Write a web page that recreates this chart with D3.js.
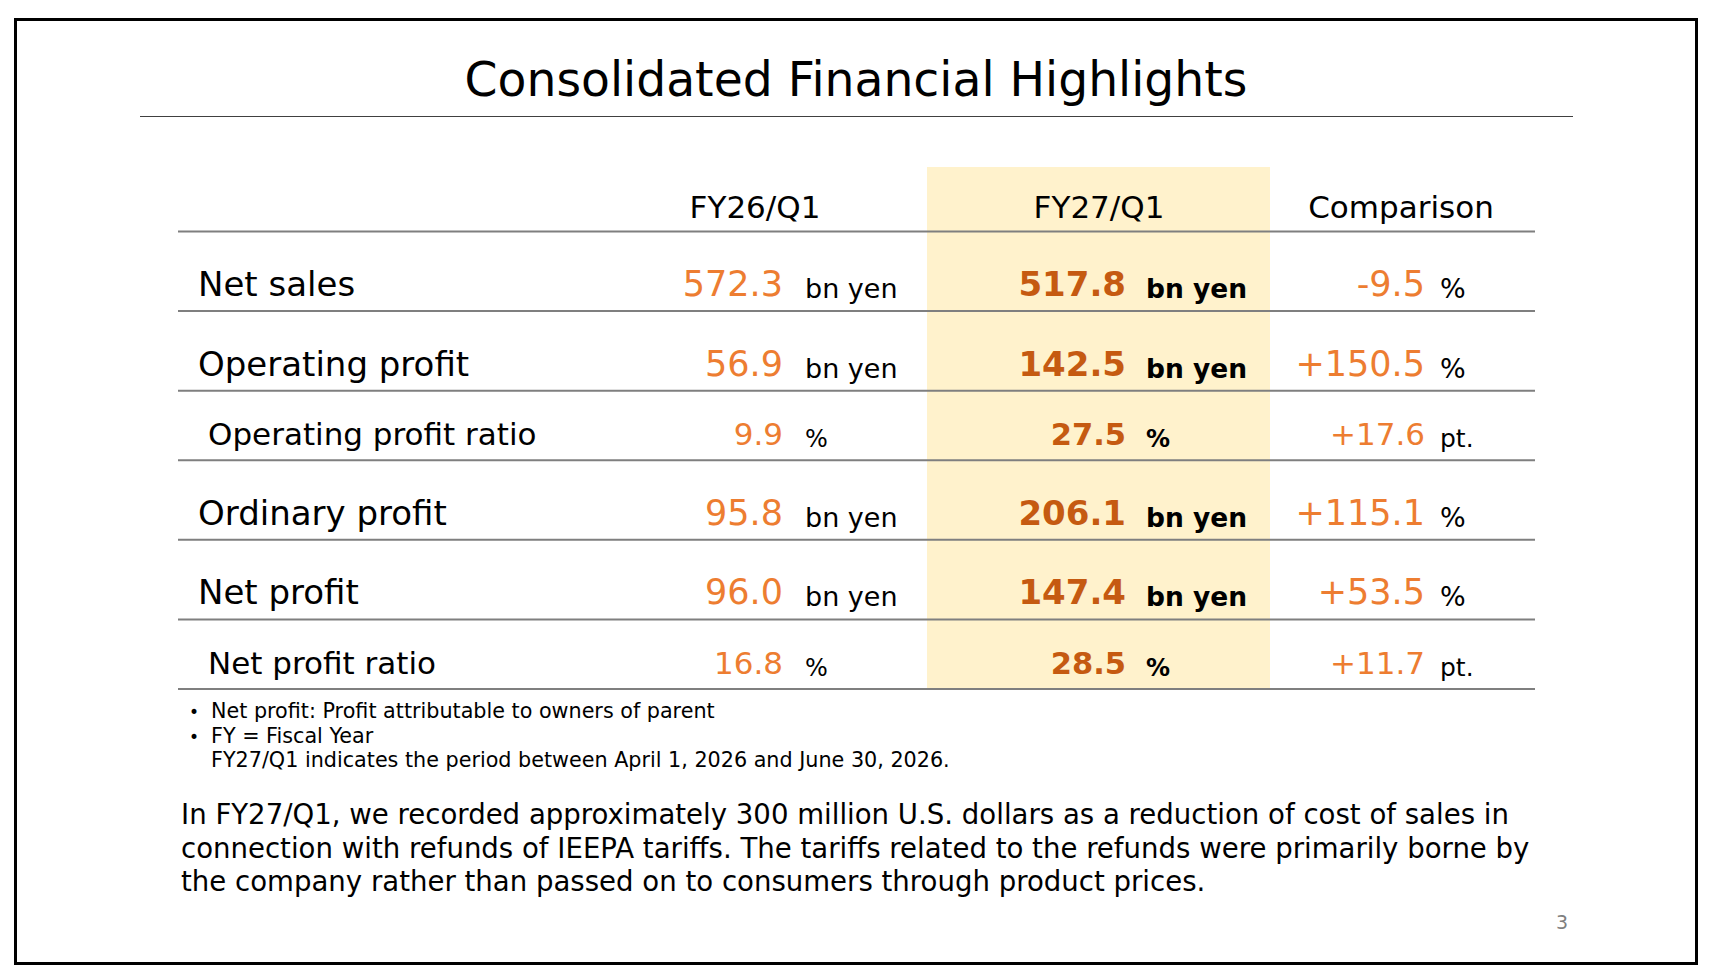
<!DOCTYPE html>
<html>
<head>
<meta charset="utf-8">
<script src="https://cdn.jsdelivr.net/npm/d3@7"></script>
<style>
  html, body { margin: 0; padding: 0; background: #fff; }
  text { font-family: "DejaVu Sans", sans-serif; }
</style>
</head>
<body>
<div id="slide"></div>
<script>
// table content
const columns = ["FY26/Q1", "FY27/Q1", "Comparison"];
const rowLabels = ["Net sales", "Operating profit", "Operating profit ratio", "Ordinary profit", "Net profit", "Net profit ratio"];
const rowIsRatio = [false, false, true, false, false, true];
const fy26 = [572.3, 56.9, 9.9, 95.8, 96.0, 16.8];
const fy27 = [517.8, 142.5, 27.5, 206.1, 147.4, 28.5];
const comparison = [-9.5, 150.5, 17.6, 115.1, 53.5, 11.7];
const valueUnits = ["bn yen", "bn yen", "%", "bn yen", "bn yen", "%"];
const compUnits = ["%", "%", "pt.", "%", "%", "pt."];

const notes = [
    { bullet: true, text: "Net profit: Profit attributable to owners of parent" },
    { bullet: true, text: "FY = Fiscal Year" },
    { bullet: false, text: "FY27/Q1 indicates the period between April 1, 2026 and June 30, 2026." }
];
const paragraph = [
    "In FY27/Q1, we recorded approximately 300 million U.S. dollars as a reduction of cost of sales in",
    "connection with refunds of IEEPA tariffs. The tariffs related to the refunds were primarily borne by",
    "the company rather than passed on to consumers through product prices."
];

const width = 1712;
const height = 980;

const orange = "#ed7d31";
const darkOrange = "#c55a11";
const rule = "#7f7f7f";

const svg = d3.select("#slide").append("svg")
    .attr("width", width)
    .attr("height", height);

// slide frame
svg.append("rect")
    .attr("x", 15.5).attr("y", 19.5)
    .attr("width", 1681).attr("height", 944)
    .attr("fill", "#fff")
    .attr("stroke", "#000")
    .attr("stroke-width", 3);

// font size that makes a text span the given width
function fitSize(node, w) {
    const fs = parseFloat(d3.select(node).attr("font-size"));
    return fs * w / node.getComputedTextLength();
}

const title = svg.append("text")
    .attr("x", 856).attr("y", 96)
    .attr("text-anchor", "middle")
    .attr("font-size", 50)
    .text("Consolidated Financial Highlights");
title.attr("font-size", fitSize(title.node(), 783));

svg.append("line")
    .attr("x1", 140).attr("x2", 1573)
    .attr("y1", 116.5).attr("y2", 116.5)
    .attr("stroke", "#404040")
    .attr("stroke-width", 1.2);

// rows: main rows are taller than ratio rows
const rowUnits = rowIsRatio.map(r => r ? 7 : 8);
const rowEnds = Array.from(d3.cumsum(rowUnits));
const y = d3.scaleLinear()
    .domain([0, d3.sum(rowUnits)])
    .range([231.5, 689]);

const tableLeft = 178, tableRight = 1535;

// highlighted FY27 column
svg.append("rect")
    .attr("x", 927).attr("y", 167)
    .attr("width", 343).attr("height", y.range()[1] - 167)
    .attr("fill", "#fff2cc");

const colX = d3.scaleOrdinal().domain(columns).range([755, 1099, 1401]);
svg.append("g")
    .selectAll("text")
    .data(columns)
    .join("text")
    .attr("x", d => colX(d))
    .attr("y", 218)
    .attr("text-anchor", "middle")
    .attr("font-size", 31)
    .text(d => d);

// horizontal rules
svg.append("g")
    .selectAll("line")
    .data([0, ...rowEnds])
    .join("line")
    .attr("x1", tableLeft).attr("x2", tableRight)
    .attr("y1", d => y(d)).attr("y2", d => y(d))
    .attr("stroke", rule)
    .attr("stroke-width", 2);

const fmt = d3.formatLocale({ decimal: ".", thousands: ",", grouping: [3], currency: ["", ""], minus: "-" });
const f1 = fmt.format(".1f");
const fSign = fmt.format("+.1f");

const rows = rowLabels.map((label, i) => ({
    label, ratio: rowIsRatio[i], base: y(rowEnds[i]) - 15,
    a: fy26[i], b: fy27[i], c: comparison[i],
    unit: valueUnits[i], cunit: compUnits[i]
}));

const row = svg.append("g")
    .selectAll("g")
    .data(rows)
    .join("g")
    .attr("transform", d => `translate(0,${d.base})`);

row.append("text")
    .attr("x", d => d.ratio ? 208 : 198)
    .attr("font-size", d => d.ratio ? 31 : 34)
    .text(d => d.label);

row.append("text")
    .attr("x", 783)
    .attr("text-anchor", "end")
    .attr("fill", orange)
    .attr("font-size", d => d.ratio ? 31 : 35)
    .text(d => f1(d.a));

row.append("text")
    .attr("x", 1126)
    .attr("text-anchor", "end")
    .attr("fill", darkOrange)
    .attr("font-weight", "bold")
    .attr("font-size", d => d.ratio ? 30.5 : 34)
    .text(d => f1(d.b));

row.append("text")
    .attr("x", 1425)
    .attr("text-anchor", "end")
    .attr("fill", orange)
    .attr("font-size", d => d.ratio ? 31 : 35)
    .text(d => d.c < 0 ? f1(d.c) : fSign(d.c));

row.append("text")
    .attr("x", 805).attr("y", 2)
    .attr("font-size", d => d.unit === "%" ? 24 : 27)
    .text(d => d.unit);

row.append("text")
    .attr("x", 1146).attr("y", 2)
    .attr("font-weight", "bold")
    .attr("font-size", d => d.unit === "%" ? 24 : 26.5)
    .text(d => d.unit);

row.append("text")
    .attr("x", 1440).attr("y", 2)
    .attr("font-size", d => d.cunit === "%" ? 27 : 25)
    .text(d => d.cunit);

// footnotes
const note = svg.append("g")
    .selectAll("g")
    .data(notes)
    .join("g")
    .attr("transform", (d, i) => `translate(0,${718 + i * 24.7})`);

note.filter(d => d.bullet).append("text")
    .attr("x", 189)
    .attr("font-size", 17)
    .text("•");

const noteText = note.append("text")
    .attr("x", 211)
    .attr("font-size", 20)
    .text(d => d.text);
noteText.attr("font-size", fitSize(noteText.nodes()[2], 739));

const para = svg.append("g")
    .selectAll("text")
    .data(paragraph)
    .join("text")
    .attr("x", 181)
    .attr("y", (d, i) => 824 + i * 33.5)
    .attr("font-size", 28)
    .text(d => d);
para.attr("font-size", fitSize(para.nodes()[1], 1349));

svg.append("text")
    .attr("x", 1562).attr("y", 929)
    .attr("text-anchor", "middle")
    .attr("fill", "#7f7f7f")
    .attr("font-size", 19)
    .text("3");
</script>
</body>
</html>
